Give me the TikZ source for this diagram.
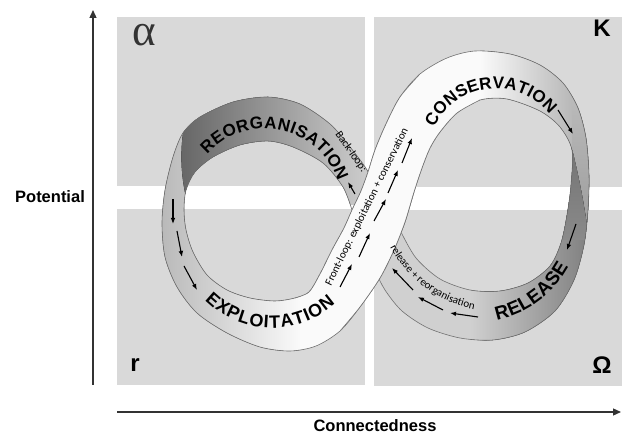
\documentclass[tikz,border=0pt]{standalone}
\usepackage{fontspec}
\setmainfont{Liberation Sans}
\newfontfamily\smallfont{Carlito}
\newfontfamily\serifgreek{Liberation Serif}
\usetikzlibrary{arrows.meta}
\definecolor{panel}{HTML}{D9D9D9}
\definecolor{edgec}{HTML}{707070}
\definecolor{bandA}{HTML}{B4B4B4}
\definecolor{bandW}{HTML}{FAFAFA}
\definecolor{bandR}{HTML}{A4A4A4}
\definecolor{reoD}{HTML}{666666}
\definecolor{reoL}{HTML}{CFCFCF}
\definecolor{relL}{HTML}{D0D0D0}
\definecolor{relD}{HTML}{787878}
\definecolor{twD}{HTML}{727272}
\definecolor{twM}{HTML}{8A8A8A}
\definecolor{foldT}{HTML}{BBBBBB}
\definecolor{foldB}{HTML}{9A9A9A}
\definecolor{axisc}{HTML}{333333}
\definecolor{greekc}{HTML}{333333}
\def\Lpath{plot[smooth] coordinates {(397,225) (383,200) (367,170) (350,147) (330,124) (300,104) (268,97) (233,102) (200,117) (183,133) (173,157) (165,190) (162,223) (165,257) (177,287) (197,313) (227,333) (260,347) (290,351) (316,346) (340,331) (360,307) (380,278) (394,250) (405,222) (414,192)} -- cycle
 plot[smooth] coordinates {(352,210) (344,228) (332,250) (320,274) (309,292) (295,298) (275,301) (250,298) (227,290) (207,275) (193,252) (186,230) (184,210) (186,190) (195,172) (213,157) (240,145) (268,141) (293,147) (323,163) (343,187) (352,210)} -- cycle}
\def\Rpath{plot[smooth] coordinates {(352,210) (361,191) (368,172) (375,150) (386,124) (400,97) (420,74) (447,58) (475,51) (510,54) (540,65) (563,83) (578,108) (586,138) (589,175) (588,210) (584,245) (574,280) (555,311) (525,332) (493,340) (460,338) (428,328) (402,311) (385,290) (375,270) (363,240) (352,210)} -- cycle
 plot[smooth] coordinates {(401,232) (416,258) (440,279) (470,290) (500,291) (528,283) (550,266) (561,243) (567,215) (571,185) (572,150) (560,127) (540,111) (507,99) (480,100) (457,113) (440,132) (430,148) (422,168) (414,192) (405,222) (401,232)} -- cycle}
\def\FleftList{(295,298) (309,292) (320,274) (332,250) (344,228) (352,210) (361,191) (368,172) (375,150) (386,124) (400,97) (420,74)}
\def\FrightList{(480,100) (457,113) (440,132) (430,148) (422,168) (414,192) (405,222) (394,250) (380,278) (360,307) (340,331)}
\def\Fpath{plot[smooth] coordinates {\FleftList} -- plot[smooth] coordinates {\FrightList} -- cycle}
\newcommand\basefill{%
  \fill[left color=bandA, right color=bandW] (150,40) rectangle (301,360);
  \fill[bandW] (300,40) rectangle (481,360);
  \fill[left color=bandW, right color=bandR] (480,40) rectangle (600,360);}
% letters on an arc, tops toward the centre: #1 prefix, #2 cx, #3 cy, #4 r, #5 style, #6 list
\newcommand\arcin[6]{\foreach \ch/\a [count=\i] in {#6} {\node[#5, anchor=base, rotate={90-\a}] (#1\i) at ({#2+#4*cos(\a)},{#3+#4*sin(\a)}) {\ch};}}
% letters on an arc, tops away from the centre
\newcommand\arcout[6]{\foreach \ch/\a [count=\i] in {#6} {\node[#5, anchor=base, rotate={-\a-90}] (#1\i) at ({#2+#4*cos(\a)},{#3+#4*sin(\a)}) {\ch};}}
\begin{document}
\begin{tikzpicture}[x=1pt,y=-1pt,
  edgeline/.style={draw=edgec, line width=0.6pt},
  flow/.style={-{Latex[length=6pt,width=4.6pt]}, line width=1.1pt, black},
  axisline/.style={-{Triangle[length=8pt,width=7pt]}, line width=1.3pt, axisc},
  axlab/.style={font=\fontsize{16.5}{17}\selectfont\bfseries, inner sep=0pt},
  corner/.style={font=\fontsize{24}{24}\selectfont\bfseries, inner sep=0pt},
  bigA/.style={font=\fontsize{18}{18}\selectfont\bfseries, inner sep=0pt},
  bigB/.style={font=\fontsize{17}{17}\selectfont\bfseries, inner sep=0pt},
  bigC/.style={font=\fontsize{19}{19}\selectfont\bfseries, inner sep=0pt},
  smalltxt/.style={font=\smallfont\fontsize{11}{12}\selectfont, inner sep=0pt}]
\useasboundingbox (0,0) rectangle (622,435);
\fill[white] (0,0) rectangle (622,435);
% panels
\fill[panel] (117,17) rectangle (365,186);
\fill[panel] (374,17) rectangle (622,187);
\fill[panel] (117,209) rectangle (365,385);
\fill[panel] (374,210) rectangle (622,386);
% axes
\coordinate (yS) at (93,385); \coordinate (yE) at (93,10);
\coordinate (xS) at (117,412); \coordinate (xE) at (621,412);
\draw[axisline] (yS) -- (yE);
\draw[axisline] (xS) -- (xE);
\node[axlab] (potential) at (50,197) {Potential};
\node[axlab] (connected) at (375,426) {Connectedness};
% corner labels
\node[inner sep=0pt, text=greekc, font=\serifgreek\fontsize{45}{45}\selectfont] (alpha) at (144,35) {α};
\node[corner] (kay) at (602,28.5) {K};
\node[corner] (arr) at (135,365) {r};
\node[corner] (omega) at (602,365) {Ω};
% left lobe
\begin{scope}
  \clip \Lpath;
  \basefill
  \fill[left color=reoD, right color=reoL] (183,60) -- (183,133) .. controls (180,155) and (181,180) .. (188,205) -- (372,205) -- (372,60) -- cycle;
\end{scope}
% right lobe
\begin{scope}
  \clip \Rpath;
  \basefill
  \fill[relL] (378,200) rectangle (471,360);
  \fill[left color=relL, right color=relD] (470,200) rectangle (600,360);
  \fill[top color=twD, bottom color=twM] (540,140) -- (572,148) .. controls (578,172) and (585,205) .. (589,240) -- (540,240) -- cycle;
  \fill[top color=foldT, bottom color=foldB] (572,148) .. controls (578,172) and (585,205) .. (589,240) -- (600,240) -- (600,95) -- (572,95) -- cycle;
\end{scope}
\draw[edgeline] \Lpath;
\draw[edgeline] \Rpath;
% front strip
\fill[bandW] \Fpath;
\draw[edgeline] plot[smooth] coordinates {\FleftList};
\draw[edgeline] plot[smooth] coordinates {\FrightList};
% band texts
\arcin{ex}{272}{233}{95}{bigA}{E/131.4, X/123.5, P/115.7, L/108.2, O/100.0, I/93.7, T/88.3, A/80.4, T/72.6, I/67.2, O/60.8, N/52.1}
\arcout{re}{265}{205}{76.5}{bigB}{R/-134.4, E/-125.3, O/-115.7, R/-105.9, G/-96.0, A/-86.1, N/-76.6, I/-69.9, S/-63.5, A/-54.4, T/-45.5, I/-39.5, O/-32.5, N/-22.6}
\arcout{co}{496}{157.5}{69}{bigB}{C/-148.9, O/-138.2, N/-127.5, S/-117.6, E/-108.1, R/-98.2, V/-88.2, A/-78.3, T/-68.8, I/-62.4, O/-54.8, N/-44.1}
\arcin{rl}{476}{217}{105}{bigC}{R/74.8, E/67.4, L/60.6, E/53.8, A/46.4, S/39.0, E/31.9}
\arcin{rr}{498}{189}{122.6}{smalltxt}{r/150.8, e/148.6, l/146.7, e/144.9, a/142.4, s/140.1, e/137.8, +/134.1, r/130.8, e/128.6, o/126.0, r/123.7, g/121.6, a/119.2, n/116.6, i/114.6, s/113.0, a/110.8, t/108.7, i/107.3, o/105.3, n/102.6}
\node[smalltxt, rotate=63.7] (frontlbl) at (367,207) {Front-loop: exploitation + conservation};
\node[smalltxt, rotate=-55] (backlbl) at (351,152) {Back-loop:};
% flow arrows
\coordinate (la1) at (173,199); \coordinate (la2) at (173,224);
\coordinate (lb1) at (177,231); \coordinate (lb2) at (182,257);
\coordinate (lc1) at (184,266); \coordinate (lc2) at (197,290);
\draw[flow] (la1) -- (la2); \draw[flow] (lb1) -- (lb2); \draw[flow] (lc1) -- (lc2);
\coordinate (fa1) at (340,287); \coordinate (fa2) at (352,264);
\coordinate (fb1) at (359,257); \coordinate (fb2) at (370,233);
\coordinate (fc1) at (374,221); \coordinate (fc2) at (386,199);
\coordinate (fd1) at (388,193); \coordinate (fd2) at (398,170);
\coordinate (fe1) at (402,163); \coordinate (fe2) at (412,138);
\draw[flow] (fa1) -- (fa2); \draw[flow] (fb1) -- (fb2); \draw[flow] (fc1) -- (fc2);
\draw[flow] (fd1) -- (fd2); \draw[flow] (fe1) -- (fe2);
\coordinate (ca1) at (558,110); \coordinate (ca2) at (573,134);
\draw[flow] (ca1) -- (ca2);
\coordinate (ra1) at (576,224); \coordinate (ra2) at (567,250);
\draw[flow] (ra1) -- (ra2);
\coordinate (sa1) at (413,290); \coordinate (sa2) at (392,268);
\coordinate (sb1) at (443,310); \coordinate (sb2) at (418,297);
\coordinate (sc1) at (478,317); \coordinate (sc2) at (450,313);
\draw[flow] (sa1) -- (sa2); \draw[flow] (sb1) -- (sb2); \draw[flow] (sc1) -- (sc2);
\coordinate (ba1) at (355,194); \coordinate (ba2) at (348,182);
\draw[flow] (ba1) -- (ba2);
\end{tikzpicture}
\end{document}
